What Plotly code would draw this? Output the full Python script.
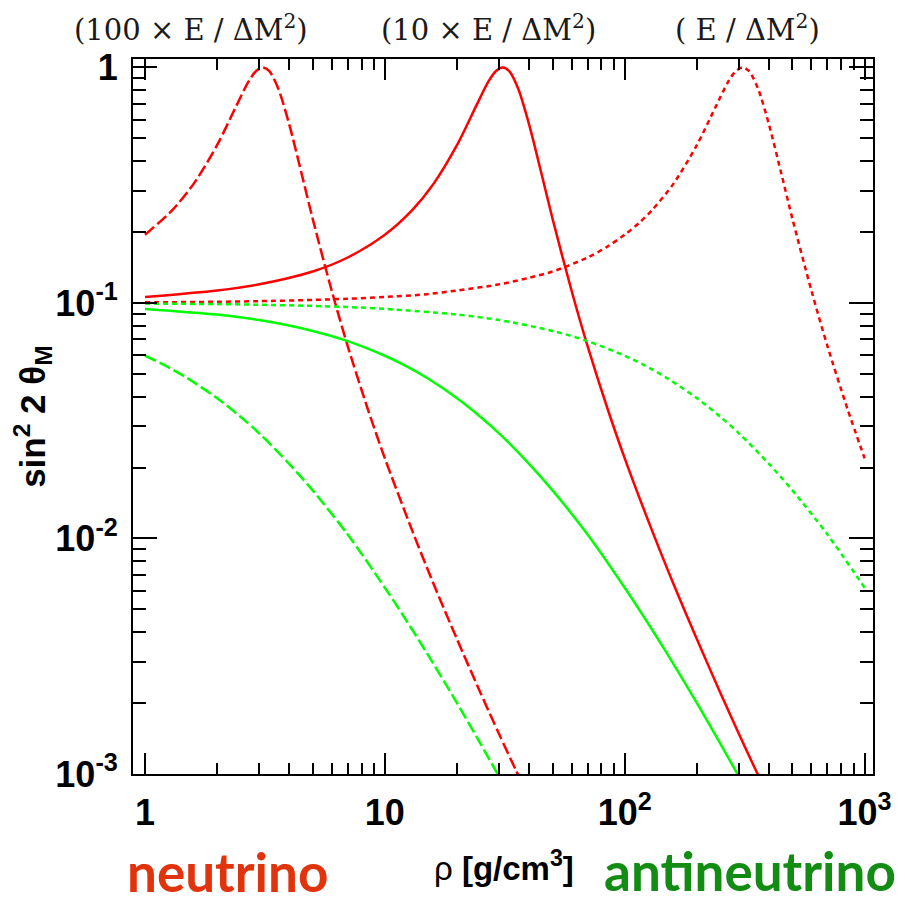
import plotly.graph_objects as go

# ---- data ----
# neutrino, 100 x E / dM^2 (red dashed)
rho_nu_100 = [1, 1.3, 1.6, 2, 2.4, 2.7, 2.9, 3.1, 3.3, 3.6, 4, 4.5, 5, 6, 7, 8.5, 10, 13, 16, 20, 25, 30, 35, 36]
s2_nu_100 = [0.195, 0.248, 0.322, 0.469, 0.685, 0.870, 0.964, 1.0, 0.964, 0.810, 0.569, 0.353, 0.228, 0.113,
             0.0656, 0.0353, 0.0219, 0.0108, 0.00638, 0.00373, 0.00222, 0.00147, 0.00105, 0.00099]

# neutrino, 10 x E / dM^2 (red solid)
rho_nu_10 = [1, 2, 3, 5, 7, 10, 13, 16, 20, 24, 27, 29, 31, 33, 36, 40, 45, 50, 60, 70, 85, 100, 130, 160,
             200, 250, 300, 350, 360]
s2_nu_10 = [0.106, 0.113, 0.120, 0.136, 0.156, 0.195, 0.248, 0.322, 0.469, 0.685, 0.870, 0.964, 1.0, 0.964,
            0.810, 0.569, 0.353, 0.228, 0.113, 0.0656, 0.0353, 0.0219, 0.0108, 0.00638, 0.00373, 0.00222,
            0.00147, 0.00105, 0.00099]

# neutrino, E / dM^2 (red dotted)
rho_nu_1 = [1, 2, 3, 5, 7, 10, 15, 20, 30, 40, 50, 70, 85, 100, 115, 130, 160, 200, 240, 270, 290, 310, 330,
            360, 400, 450, 500, 600, 700, 850, 1000]
s2_nu_1 = [0.1006, 0.1012, 0.1018, 0.1030, 0.1042, 0.106, 0.109, 0.113, 0.120, 0.128, 0.136, 0.156, 0.174,
           0.195, 0.219, 0.248, 0.322, 0.469, 0.685, 0.870, 0.964, 1.0, 0.964, 0.810, 0.569, 0.353, 0.228,
           0.113, 0.0656, 0.0353, 0.0219]

# antineutrino, 100 x E / dM^2 (green dashed)
rho_anu_100 = [1, 1.2, 1.5, 2, 2.5, 3, 4, 5, 7, 10, 12, 15, 20, 25, 30]
s2_anu_100 = [0.0597, 0.0546, 0.0480, 0.0394, 0.0329, 0.0279, 0.0207, 0.0160, 0.0104, 0.00618, 0.00466,
              0.00325, 0.00200, 0.00135, 0.00097]

# antineutrino, 10 x E / dM^2 (green solid)
rho_anu_10 = [1, 2, 3, 5, 7, 10, 12, 15, 20, 25, 30, 40, 50, 70, 100, 120, 150, 200, 250, 300]
s2_anu_10 = [0.0944, 0.0893, 0.0846, 0.0761, 0.0689, 0.0597, 0.0546, 0.0480, 0.0394, 0.0329, 0.0279, 0.0207,
             0.0160, 0.0104, 0.00618, 0.00466, 0.00325, 0.00200, 0.00135, 0.00097]

# antineutrino, E / dM^2 (green dotted)
rho_anu_1 = [1, 2, 3, 5, 7, 10, 20, 30, 50, 70, 100, 120, 150, 200, 250, 300, 400, 500, 700, 1000]
s2_anu_1 = [0.0994, 0.0989, 0.0983, 0.0972, 0.0961, 0.0944, 0.0893, 0.0846, 0.0761, 0.0689, 0.0597, 0.0546,
            0.0480, 0.0394, 0.0329, 0.0279, 0.0207, 0.0160, 0.0104, 0.00618]

x_tickvals = [1, 10, 100, 1000]
x_ticktext = ["1", "10", "10<sup>2</sup>", "10<sup>3</sup>"]
y_tickvals = [0.001, 0.01, 0.1, 1]
y_ticktext = ["10<sup>-3</sup>", "10<sup>-2</sup>", "10<sup>-1</sup>", "1"]
x_minor = [2, 3, 4, 5, 6, 7, 8, 9, 20, 30, 40, 50, 60, 70, 80, 90, 200, 300, 400, 500, 600, 700, 800, 900]
y_minor = [0.002, 0.003, 0.004, 0.005, 0.006, 0.007, 0.008, 0.009,
           0.02, 0.03, 0.04, 0.05, 0.06, 0.07, 0.08, 0.09,
           0.2, 0.3, 0.4, 0.5, 0.6, 0.7, 0.8, 0.9]

top_labels = ["(100 × E / ΔM<sup>2</sup>)", "(10 × E / ΔM<sup>2</sup>)", "( E / ΔM<sup>2</sup>)"]

RED = "#ff0000"
GREEN = "#00ff00"

fig = go.Figure()
series = [
    (rho_nu_100, s2_nu_100, RED, "12px,4px"),
    (rho_nu_10, s2_nu_10, RED, "solid"),
    (rho_nu_1, s2_nu_1, RED, "5px,4px"),
    (rho_anu_100, s2_anu_100, GREEN, "12px,4px"),
    (rho_anu_10, s2_anu_10, GREEN, "solid"),
    (rho_anu_1, s2_anu_1, GREEN, "5px,4px"),
]
for xs, ys, col, dash in series:
    fig.add_trace(go.Scatter(x=xs, y=ys, mode="lines",
                             line=dict(color=col, width=2.5, dash=dash, shape="spline", smoothing=0.8),
                             showlegend=False, hoverinfo="skip"))

tickfont = dict(family="Liberation Sans", size=36, color="black", weight="bold")

fig.update_xaxes(type="log", range=[-0.05, 3.035], showgrid=False, zeroline=False,
                 showline=True, linecolor="black", linewidth=2, mirror="allticks",
                 ticks="inside", ticklen=21, tickwidth=1.5, tickcolor="black",
                 tickmode="array", tickvals=x_tickvals, ticktext=x_ticktext,
                 tickfont=tickfont, ticklabelstandoff=6,
                 minor=dict(tickmode="array", tickvals=x_minor, ticks="inside", ticklen=11,
                            tickwidth=1.5, tickcolor="black", showgrid=False))
fig.update_yaxes(type="log", range=[-3.0, 0.036], showgrid=False, zeroline=False,
                 showline=True, linecolor="black", linewidth=2, mirror="allticks",
                 ticks="inside", ticklen=24, tickwidth=1.5, tickcolor="black",
                 tickmode="array", tickvals=y_tickvals, ticktext=y_ticktext,
                 tickfont=tickfont, ticklabelstandoff=6,
                 minor=dict(tickmode="array", tickvals=y_minor, ticks="inside", ticklen=13,
                            tickwidth=1.5, tickcolor="black", showgrid=False))

annotations = []
for txt, xp in zip(top_labels, [0.078, 0.480, 0.831]):
    annotations.append(dict(text=txt, x=xp, y=1.043, xref="paper", yref="paper",
                            xanchor="center", yanchor="middle", showarrow=False,
                            font=dict(family="DejaVu Serif", size=29, color="#1a1a1a")))
annotations.append(dict(text="sin<sup>2</sup> 2 θ<sub>M</sub>", x=-0.136, y=0.50, xref="paper", yref="paper",
                        textangle=-90, xanchor="center", yanchor="middle", showarrow=False,
                        font=dict(family="Liberation Sans", size=35, color="black", weight="bold")))
annotations.append(dict(text="ρ <b>[g/cm<sup>3</sup>]</b>", x=0.501, y=-0.128, xref="paper", yref="paper",
                        xanchor="center", yanchor="middle", showarrow=False,
                        font=dict(family="Liberation Sans", size=33, color="black")))
annotations.append(dict(text="neutrino", x=0.128, y=-0.136, xref="paper", yref="paper",
                        xanchor="center", yanchor="middle", showarrow=False,
                        font=dict(family="Lato", size=53, color="#e2340c", weight="bold")))
annotations.append(dict(text="antineutrino", x=0.834, y=-0.135, xref="paper", yref="paper",
                        xanchor="center", yanchor="middle", showarrow=False,
                        font=dict(family="Lato", size=53, color="#128c12", weight="bold")))

# the page body adds an 8px offset, so the figure is 8px smaller and margins shifted
fig.update_layout(width=897, height=893, margin=dict(l=125, r=32, t=51, b=127),
                  paper_bgcolor="white", plot_bgcolor="white", annotations=annotations)

fig.write_html("out.html")
